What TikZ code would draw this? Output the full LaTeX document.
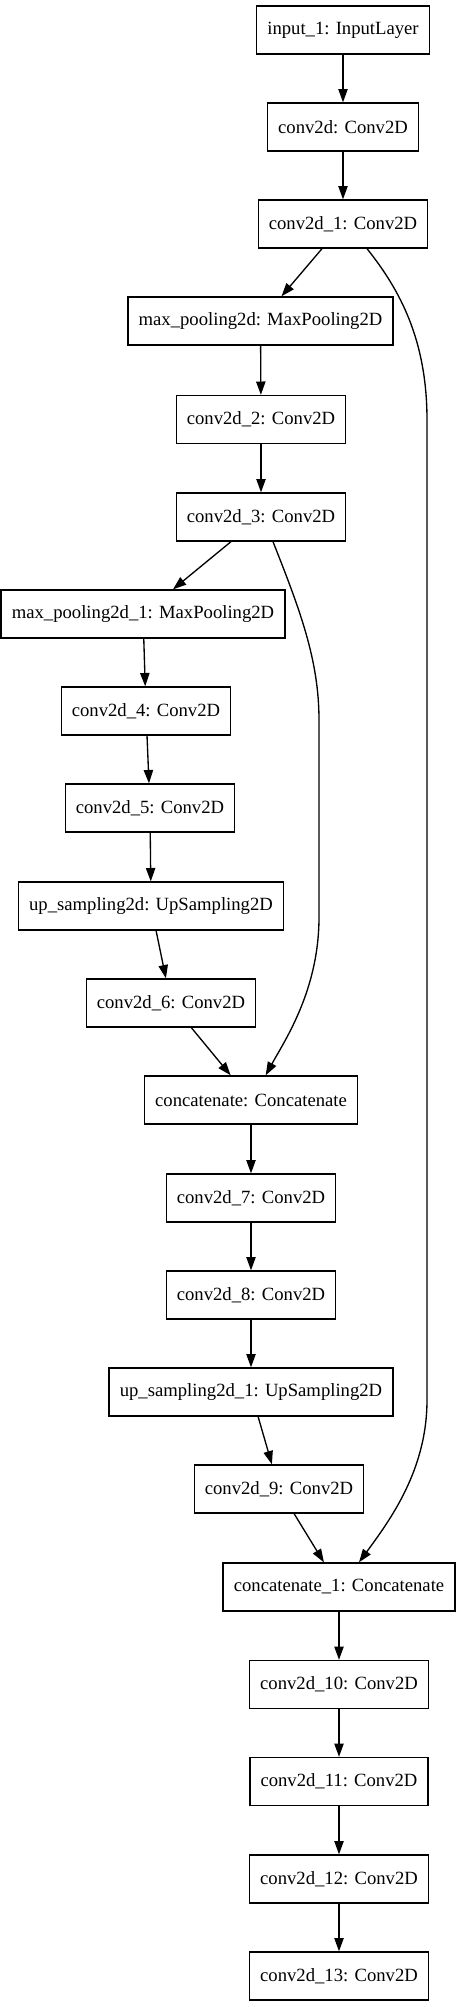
\documentclass[tikz,border=0pt]{standalone}
\usepackage{fontspec}
\setmainfont{Liberation Serif}
\usetikzlibrary{arrows.meta}
\tikzset{
	layer/.style={draw, line width=1pt, minimum height=36pt, inner xsep=8pt, font=\fontsize{14}{16}\selectfont},
	edge/.style={-{Triangle[length=10pt,width=7pt]}, line width=1pt},
}
\begin{document}
\begin{tikzpicture}[x=0.75pt, y=-0.75pt]
		\useasboundingbox (0,0) rectangle (457,2007);

		\node[layer] (in1) at (343,30) {input\_1: InputLayer};
		\node[layer] (c0) at (343,127) {conv2d: Conv2D};
		\node[layer] (c1) at (343,224) {conv2d\_1: Conv2D};
		\node[layer] (mp0) at (260.5,321) {max\_pooling2d: MaxPooling2D};
		\node[layer] (c2) at (261,419.5) {conv2d\_2: Conv2D};
		\node[layer] (c3) at (261,517) {conv2d\_3: Conv2D};
		\node[layer] (mp1) at (143,614) {max\_pooling2d\_1: MaxPooling2D};
		\node[layer] (c4) at (146,711) {conv2d\_4: Conv2D};
		\node[layer] (c5) at (150,808) {conv2d\_5: Conv2D};
		\node[layer] (up0) at (151,906) {up\_sampling2d: UpSampling2D};
		\node[layer] (c6) at (171,1003) {conv2d\_6: Conv2D};
		\node[layer] (cat0) at (251,1100) {concatenate: Concatenate};
		\node[layer] (c7) at (251,1198) {conv2d\_7: Conv2D};
		\node[layer] (c8) at (251,1295) {conv2d\_8: Conv2D};
		\node[layer] (up1) at (251,1392) {up\_sampling2d\_1: UpSampling2D};
		\node[layer] (c9) at (279,1489) {conv2d\_9: Conv2D};
		\node[layer] (cat1) at (339,1587) {concatenate\_1: Concatenate};
		\node[layer] (c10) at (339,1684.5) {conv2d\_10: Conv2D};
		\node[layer] (c11) at (339,1781.5) {conv2d\_11: Conv2D};
		\node[layer] (c12) at (339,1879) {conv2d\_12: Conv2D};
		\node[layer] (c13) at (339,1976) {conv2d\_13: Conv2D};

		\draw[edge] (in1) -- (c0);
		\draw[edge] (c0) -- (c1);
		\draw[edge] (c1) -- (mp0);
		\draw[edge] (mp0) -- (c2);
		\draw[edge] (c2) -- (c3);
		\draw[edge] (c3) -- (mp1);
		\draw[edge] (mp1) -- (c4);
		\draw[edge] (c4) -- (c5);
		\draw[edge] (c5) -- (up0);
		\draw[edge] (up0) -- (c6);
		\draw[edge] (c6) -- (cat0);
		\draw[edge] (cat0) -- (c7);
		\draw[edge] (c7) -- (c8);
		\draw[edge] (c8) -- (up1);
		\draw[edge] (up1) -- (c9);
		\draw[edge] (c9) -- (cat1);
		\draw[edge] (cat1) -- (c10);
		\draw[edge] (c10) -- (c11);
		\draw[edge] (c11) -- (c12);
		\draw[edge] (c12) -- (c13);

		% skip connections
		\draw[edge] ([xshift=18pt]c1.south) .. controls (400,290) and (427,340) .. (427,420)
			-- (427,1400) .. controls (427,1470) and (390,1520) .. ([xshift=15pt]cat1.north);
		\draw[edge] ([xshift=9pt]c3.south) .. controls (300,610) and (319,660) .. (319,720)
			-- (319,917) .. controls (319,990) and (285,1040) .. ([xshift=11pt]cat0.north);
	\end{tikzpicture}
\end{document}
